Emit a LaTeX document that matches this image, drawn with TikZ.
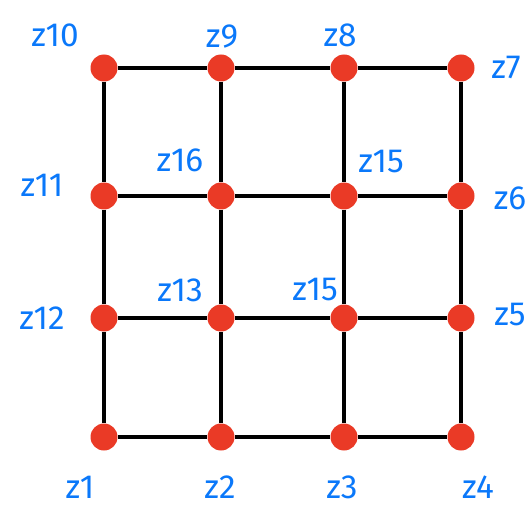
\documentclass[tikz,border=0pt]{standalone}
\usepackage{fontspec}
\newfontfamily\handfont{Fira Sans}
\usepackage{xcolor}
\usetikzlibrary{positioning}
\usetikzlibrary{calc}
\definecolor{dotred}{RGB}{234,58,38}
\definecolor{penblue}{RGB}{10,120,250}

\begin{document}
\begin{tikzpicture}[
    dot/.style={draw=none,circle,fill=dotred,minimum size=0.54cm,inner sep=0pt},
    lab/.style={text=penblue,font=\handfont\fontsize{19}{22}\selectfont,inner sep=0pt},
    gridline/.style={line width=2.3pt}]
			\useasboundingbox (0,0) rectangle (10.62,10.24);

			% vertices
			\node (z10) [dot] at (2.08,8.88) {};
			\node (z9) [dot] at (4.42,8.88) {};
			\node (z8) [dot] at (6.88,8.88) {};
			\node (z7) [dot] at (9.22,8.88) {};
			\node (z11) [dot] at (2.08,6.32) {};
			\node (z16) [dot] at (4.42,6.32) {};
			\node (z15) [dot] at (6.88,6.32) {};
			\node (z6) [dot] at (9.22,6.32) {};
			\node (z12) [dot] at (2.08,3.88) {};
			\node (z13) [dot] at (4.42,3.88) {};
			\node (z14) [dot] at (6.88,3.88) {};
			\node (z5) [dot] at (9.22,3.88) {};
			\node (z1) [dot] at (2.08,1.5) {};
			\node (z2) [dot] at (4.42,1.5) {};
			\node (z3) [dot] at (6.88,1.5) {};
			\node (z4) [dot] at (9.22,1.5) {};

			% labels
			\node (l10) [lab] at (1.1,9.54) {z10};
			\node (l9) [lab] at (4.44,9.5) {z9};
			\node (l8) [lab] at (6.8,9.54) {z8};
			\node (l7) [lab] at (10.12,8.88) {z7};
			\node (l11) [lab] at (0.84,6.54) {z11};
			\node (l16) [lab] at (3.6,7.04) {z16};
			\node (l15) [lab] at (7.62,7.0) {z15};
			\node (l6) [lab] at (10.2,6.28) {z6};
			\node (l12) [lab] at (0.84,3.88) {z12};
			\node (l13) [lab] at (3.6,4.44) {z13};
			\node (l14) [lab] at (6.3,4.44) {z15};
			\node (l5) [lab] at (10.2,3.94) {z5};
			\node (l1) [lab] at (1.6,0.5) {z1};
			\node (l2) [lab] at (4.4,0.5) {z2};
			\node (l3) [lab] at (6.84,0.5) {z3};
			\node (l4) [lab] at (9.56,0.5) {z4};

			% rows
			\path[gridline]
			(z10) edge (z9) (z9) edge (z8) (z8) edge (z7)
			(z11) edge (z16) (z16) edge (z15) (z15) edge (z6)
			(z12) edge (z13) (z13) edge (z14) (z14) edge (z5)
			(z1) edge (z2) (z2) edge (z3) (z3) edge (z4);
			% columns
			\path[gridline]
			(z10) edge (z11) (z11) edge (z12) (z12) edge (z1)
			(z9) edge (z16) (z16) edge (z13) (z13) edge (z2)
			(z8) edge (z15) (z15) edge (z14) (z14) edge (z3)
			(z7) edge (z6) (z6) edge (z5) (z5) edge (z4);

		\end{tikzpicture}
\end{document}
